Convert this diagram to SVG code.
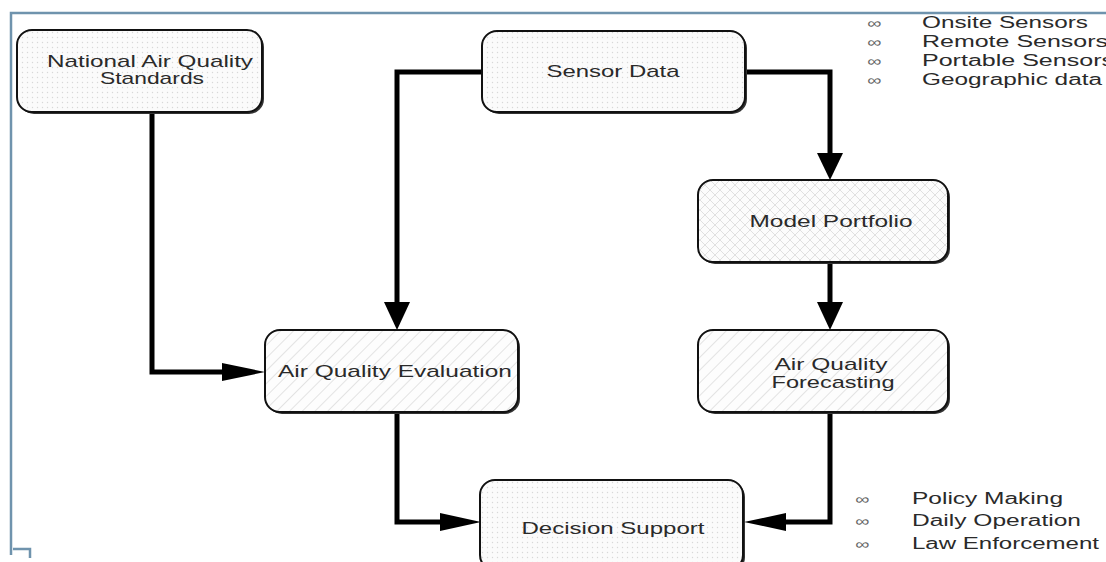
<svg xmlns="http://www.w3.org/2000/svg" width="1106" height="562" viewBox="0 0 1106 562">
<style>
.box{stroke:#111;stroke-width:2}
.shadow{fill:#333}
.lbl{font-family:"Liberation Sans",Arial,sans-serif;font-size:17px;fill:#2a2a2a;text-anchor:middle}
.leg{font-family:"Liberation Sans",Arial,sans-serif;font-size:16px;fill:#2a2a2a}
.sym{font-family:"Liberation Sans",Arial,sans-serif;font-size:14px;fill:#666}
.wire{fill:none;stroke:#000;stroke-width:5;stroke-linejoin:miter}
.head{fill:#000}
.frame{fill:none;stroke:#6f93ad;stroke-width:2.5}
</style>
<defs>
<pattern id="dots" width="5" height="5" patternUnits="userSpaceOnUse">
<rect width="5" height="5" fill="#fbfbfb"/>
<circle cx="2.5" cy="2.5" r="0.7" fill="#d8d8d8"/>
</pattern>
<pattern id="cross" width="10" height="10" patternUnits="userSpaceOnUse">
<rect width="10" height="10" fill="#fcfcfc"/>
<path d="M0 0L10 10M10 0L0 10" stroke="#e0e0e0" stroke-width="1"/>
</pattern>
<pattern id="diag" width="9" height="9" patternUnits="userSpaceOnUse" patternTransform="rotate(45)">
<rect width="9" height="9" fill="#fdfdfd"/>
<line x1="0" y1="0" x2="0" y2="9" stroke="#e3e3e3" stroke-width="2"/>
</pattern>
</defs>
<rect width="1106" height="562" fill="#ffffff"/>
<g id="frame">
<path class="frame" d="M11 555V13H1106"/>
<path class="frame" d="M13 549H30V558"/>
</g>
<g id="connectors">
<path class="wire" d="M152 112V372H224"/>
<polygon class="head" points="222,363 265,372 222,381"/>
<path class="wire" d="M482 72H397V305"/>
<polygon class="head" points="384,302 397,330 410,302"/>
<path class="wire" d="M745 72H830V155"/>
<polygon class="head" points="817,153 830,180 843,153"/>
<path class="wire" d="M830 262V305"/>
<polygon class="head" points="817,302 830,330 843,302"/>
<path class="wire" d="M397 412V522H442"/>
<polygon class="head" points="440,513 481,522 440,531"/>
<path class="wire" d="M830 412V522H784"/>
<polygon class="head" points="786,513 744,522 786,531"/>
</g>
<g id="naqs">
<rect class="shadow" x="19" y="32" width="245" height="82" rx="15"/>
<rect class="box" x="17" y="30" width="245" height="82" rx="15" fill="url(#dots)"/>
<text class="lbl" x="150" y="67" textLength="206" lengthAdjust="spacingAndGlyphs">National Air Quality</text>
<text class="lbl" x="152" y="84" textLength="104" lengthAdjust="spacingAndGlyphs">Standards</text>
</g>
<g id="sensor">
<rect class="shadow" x="484" y="33" width="263" height="81" rx="15"/>
<rect class="box" x="482" y="31" width="263" height="81" rx="15" fill="url(#dots)"/>
<text class="lbl" x="613" y="77" textLength="133" lengthAdjust="spacingAndGlyphs">Sensor Data</text>
</g>
<g id="model">
<rect class="shadow" x="700" y="182" width="250" height="82" rx="15"/>
<rect class="box" x="698" y="180" width="250" height="82" rx="15" fill="url(#cross)"/>
<text class="lbl" x="831" y="227" textLength="163" lengthAdjust="spacingAndGlyphs">Model Portfolio</text>
</g>
<g id="aqe">
<rect class="shadow" x="267" y="332" width="253" height="82" rx="15"/>
<rect class="box" x="265" y="330" width="253" height="82" rx="15" fill="url(#diag)"/>
<text class="lbl" x="395" y="377" textLength="234" lengthAdjust="spacingAndGlyphs">Air Quality Evaluation</text>
</g>
<g id="aqf">
<rect class="shadow" x="700" y="332" width="250" height="82" rx="15"/>
<rect class="box" x="698" y="330" width="250" height="82" rx="15" fill="url(#diag)"/>
<text class="lbl" x="831" y="370" textLength="113" lengthAdjust="spacingAndGlyphs">Air Quality</text>
<text class="lbl" x="833" y="388" textLength="123" lengthAdjust="spacingAndGlyphs">Forecasting</text>
</g>
<g id="decision">
<rect class="shadow" x="482" y="482" width="263" height="90" rx="15"/>
<rect class="box" x="480" y="480" width="263" height="90" rx="15" fill="url(#dots)"/>
<text class="lbl" x="613" y="534" textLength="183" lengthAdjust="spacingAndGlyphs">Decision Support</text>
</g>
<g id="legend-top">
<text class="sym" x="867" y="28" textLength="14" lengthAdjust="spacingAndGlyphs">∞</text>
<text class="leg" x="922" y="28" textLength="166" lengthAdjust="spacingAndGlyphs">Onsite Sensors</text>
<text class="sym" x="867" y="47" textLength="14" lengthAdjust="spacingAndGlyphs">∞</text>
<text class="leg" x="922" y="47" textLength="186" lengthAdjust="spacingAndGlyphs">Remote Sensors</text>
<text class="sym" x="867" y="66" textLength="14" lengthAdjust="spacingAndGlyphs">∞</text>
<text class="leg" x="922" y="66" textLength="192" lengthAdjust="spacingAndGlyphs">Portable Sensors</text>
<text class="sym" x="867" y="85" textLength="14" lengthAdjust="spacingAndGlyphs">∞</text>
<text class="leg" x="922" y="85" textLength="180" lengthAdjust="spacingAndGlyphs">Geographic data</text>
</g>
<g id="legend-bottom">
<text class="sym" x="855" y="504" textLength="14" lengthAdjust="spacingAndGlyphs">∞</text>
<text class="leg" x="912" y="504" textLength="151" lengthAdjust="spacingAndGlyphs">Policy Making</text>
<text class="sym" x="855" y="526" textLength="14" lengthAdjust="spacingAndGlyphs">∞</text>
<text class="leg" x="912" y="526" textLength="169" lengthAdjust="spacingAndGlyphs">Daily Operation</text>
<text class="sym" x="855" y="549" textLength="14" lengthAdjust="spacingAndGlyphs">∞</text>
<text class="leg" x="912" y="549" textLength="187" lengthAdjust="spacingAndGlyphs">Law Enforcement</text>
</g>
</svg>
